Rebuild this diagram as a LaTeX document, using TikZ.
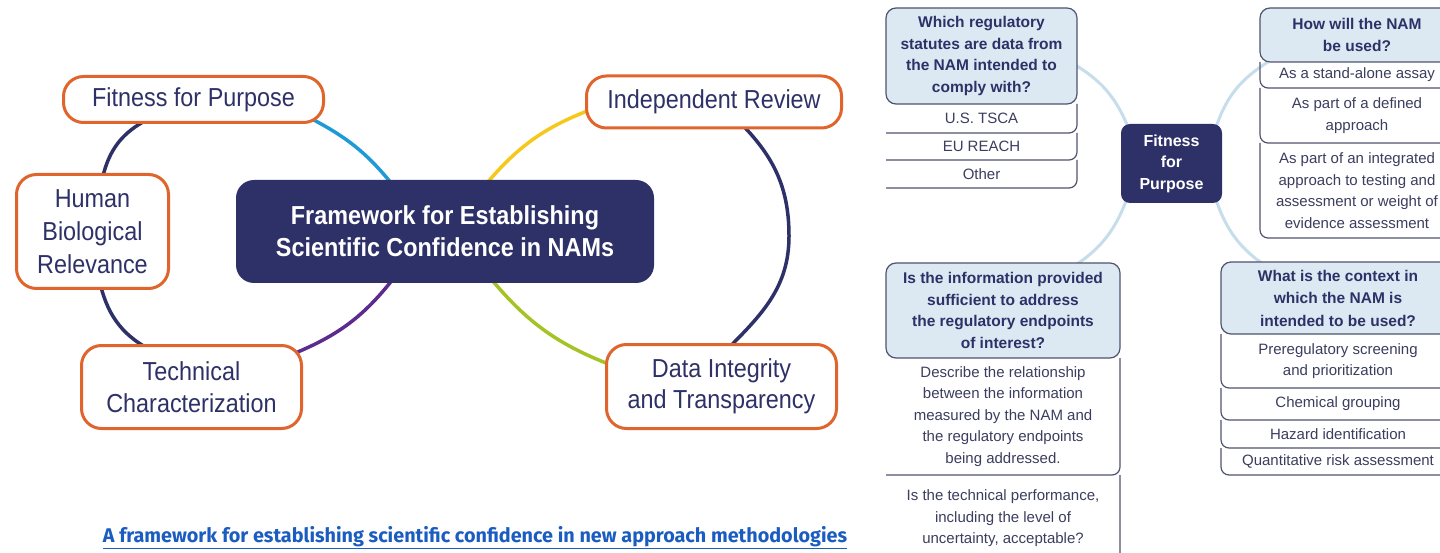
\documentclass[tikz,border=0pt]{standalone}
\usepackage{fontspec}
\setmainfont{Liberation Sans}
\newfontfamily\narrowfont[FakeStretch=0.9]{Liberation Sans}
\newfontfamily\captionfont{Fira Sans}
\usetikzlibrary{positioning,backgrounds}
\definecolor{navy}{HTML}{2E3167}
\definecolor{topicrim}{HTML}{E0652C}
\definecolor{linkblue}{HTML}{1E9AD6}
\definecolor{linkyellow}{HTML}{F7C81C}
\definecolor{linkgreen}{HTML}{A3C424}
\definecolor{linkpurple}{HTML}{5B2C8E}
\definecolor{qfill}{HTML}{DCE9F2}
\definecolor{qrim}{HTML}{50536F}
\definecolor{ringblue}{HTML}{C6DDEB}
\definecolor{anstext}{HTML}{3B3E5E}
\definecolor{capblue}{HTML}{1A5CC0}
\tikzset{topic/.style={draw=topicrim, line width=3pt, rounded corners=20pt, fill=white,
                       text=navy, align=center, inner sep=0pt,
                       font=\narrowfont\fontsize{26}{32}\selectfont},
        hub/.style={fill=navy, rounded corners=18pt, text=white, align=center, inner sep=0pt,
                    font=\narrowfont\bfseries\fontsize{26}{32}\selectfont},
        branch/.style={line width=3.5pt},
        spoke/.style={draw=ringblue, line width=3pt},
        question/.style={draw=qrim, line width=1.2pt, fill=qfill, rounded corners=10pt,
                         text=navy, align=center, inner sep=0pt, outer sep=0pt,
                         font=\bfseries\fontsize{15.5}{21.5}\selectfont},
        answer/.style={text=anstext, align=center, inner sep=0pt, outer sep=0pt,
                       font=\fontsize{15}{21.5}\selectfont},
        rowline/.style={draw=qrim, line width=1.2pt, rounded corners=8pt},
        }

\begin{document}
\begin{tikzpicture}[x=1pt, y=1pt]
    \useasboundingbox (0,0) rectangle (1440,-553);

    % the framework
    \node[topic, minimum width=260pt, minimum height=46pt] (fit) at (193.5,-99.5) {Fitness for Purpose};
    \node[topic, minimum width=255pt, minimum height=52pt] (review) at (714,-102) {Independent Review};
    \node[topic, minimum width=152pt, minimum height=114pt, font=\narrowfont\fontsize{26}{33}\selectfont] (human) at (92.5,-231.5) {Human\\Biological\\Relevance};
    \node[hub, minimum width=418pt, minimum height=103pt] (nams) at (445,-231.5) {Framework for Establishing\\Scientific Confidence in NAMs};
    \node[topic, minimum width=220pt, minimum height=83pt] (tech) at (191.5,-387) {Technical\\Characterization};
    \node[topic, minimum width=230pt, minimum height=84pt, font=\narrowfont\fontsize{26}{31}\selectfont] (data) at (721.5,-386.5) {Data Integrity\\and Transparency};
    \coordinate (bulge) at (789,-236);

    % fitness for purpose
    \node[hub, rounded corners=9pt, minimum width=101pt, minimum height=79pt,
          font=\bfseries\fontsize{16}{21.5}\selectfont] (ffp) at (1171.5,-163.5) {Fitness\\for\\Purpose};

    \node[question, minimum width=191pt, minimum height=96pt] (statutes) at (981.5,-56) {Which regulatory\\statutes are data from\\the NAM intended to\\comply with?};
    \node[answer, minimum width=191pt, minimum height=29pt, below=0pt of statutes] (tsca) {U.S. TSCA};
    \node[answer, minimum width=191pt, minimum height=27pt, below=0pt of tsca] (reach) {EU REACH};
    \node[answer, minimum width=191pt, minimum height=28pt, below=0pt of reach] (other) {Other};

    \node[question, minimum width=194pt, minimum height=54pt] (usage) at (1357,-35) {How will the NAM\\be used?};
    \node[answer, minimum width=194pt, minimum height=26pt, below=0pt of usage] (standalone) {As a stand-alone assay};
    \node[answer, minimum width=194pt, minimum height=55pt, below=0pt of standalone] (defined) {As part of a defined\\approach};
    \node[answer, minimum width=194pt, minimum height=95pt, below=0pt of defined] (integrated) {As part of an integrated\\approach to testing and\\assessment or weight of\\evidence assessment};

    \node[question, minimum width=234pt, minimum height=95pt] (endpoints) at (1003,-310.5) {Is the information provided\\sufficient to address\\the regulatory endpoints\\of interest?};
    \node[answer, minimum width=234pt, minimum height=117pt, below=0pt of endpoints] (relation) {Describe the relationship\\between the information\\measured by the NAM and\\the regulatory endpoints\\being addressed.};
    \node[answer, minimum width=234pt, minimum height=87pt, below=0pt of relation] (performance) {Is the technical performance,\\including the level of\\uncertainty, acceptable?};

    \node[question, minimum width=234pt, minimum height=72pt, font=\bfseries\fontsize{15.5}{22.5}\selectfont] (context) at (1338,-298) {What is the context in\\which the NAM is\\intended to be used?};
    \node[answer, minimum width=234pt, minimum height=54pt, below=0pt of context] (screening) {Preregulatory screening\\and prioritization};
    \node[answer, minimum width=234pt, minimum height=32pt, below=0pt of screening] (grouping) {Chemical grouping};
    \node[answer, minimum width=234pt, minimum height=28pt, below=0pt of grouping] (hazard) {Hazard identification};
    \node[answer, minimum width=234pt, minimum height=27pt, below=0pt of hazard] (risk) {Quantitative risk assessment};

    \foreach \row in {tsca,reach,other,relation,performance}
        \draw[rowline] (\row.north east) |- (\row.south west);
    \foreach \row in {standalone,defined,integrated,screening,grouping,hazard,risk}
        \draw[rowline] (\row.north west) |- (\row.south east);

    \node[font=\captionfont\bfseries\fontsize{19.8}{22}\selectfont, text=capblue, inner sep=0pt] (source) at (475,-538) {\underline{A framework for establishing scientific confidence in new approach methodologies}};

    \begin{scope}[on background layer]
        \fill[white] (0,0) rectangle (1440,-553);
        \draw[branch, linkblue] ([shift={(-15pt,6pt)}]fit.south east) to[bend left=12] ([shift={(-50pt,-8pt)}]nams.north);
        \draw[branch, linkyellow] ([shift={(38pt,-8pt)}]nams.north) to[bend left=15] ([shift={(10pt,-6pt)}]review.west);
        \draw[branch, linkgreen] ([shift={(43pt,8pt)}]nams.south) to[bend right=15] ([shift={(10pt,20pt)}]data.west);
        \draw[branch, linkpurple] ([shift={(-49pt,8pt)}]nams.south) to[bend left=15] ([shift={(-10pt,33pt)}]tech.east);
        \draw[branch, navy] ([shift={(-45pt,5pt)}]fit.south) to[bend right=25] ([shift={(10pt,-5pt)}]human.north);
        \draw[branch, navy] ([shift={(8pt,5pt)}]human.south) to[bend right=25] ([shift={(-37pt,-8pt)}]tech.north);
        \draw[branch, navy] ([shift={(25pt,8pt)}]review.south) to[out=-45, in=90] (bulge)
            to[out=-90, in=45] ([shift={(4pt,-8pt)}]data.north);

        \draw[spoke] ([shift={(-7pt,-6pt)}]statutes.east) to[bend left=20] ([shift={(9pt,-8pt)}]ffp.north west);
        \draw[spoke] ([shift={(7pt,7pt)}]ffp.south west) to[bend left=20] ([shift={(63pt,-8pt)}]endpoints.north);
        \draw[spoke] ([shift={(-7pt,-6pt)}]ffp.north east) to[bend left=20] ([shift={(8pt,0pt)}]usage.south west);
        \draw[spoke] ([shift={(-7pt,6pt)}]ffp.south east) to[bend right=20] ([shift={(-66pt,-8pt)}]context.north);
    \end{scope}
\end{tikzpicture}
\end{document}
